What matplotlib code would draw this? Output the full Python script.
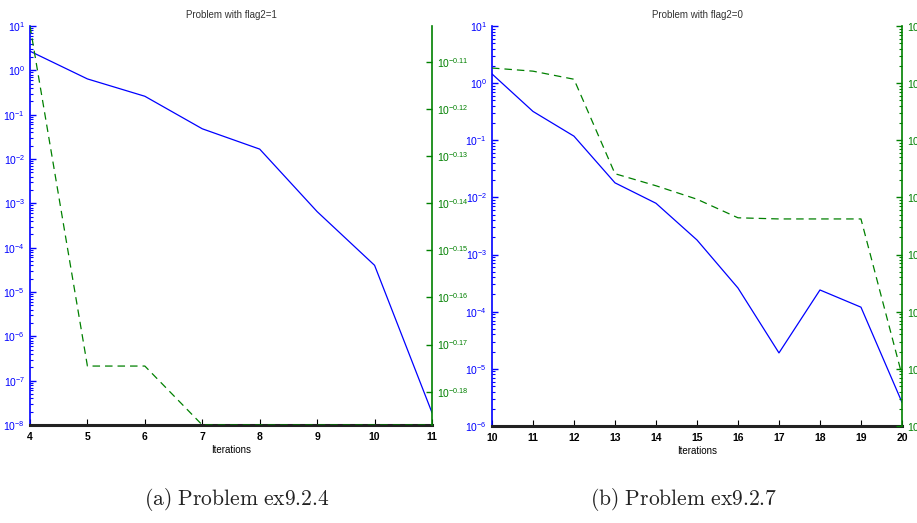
import matplotlib
matplotlib.use('Agg')
import matplotlib.pyplot as plt
from matplotlib.ticker import FixedLocator, FuncFormatter, LogLocator, NullLocator
import numpy as np

plt.rcParams['font.family'] = ['Liberation Sans', 'DejaVu Sans']
plt.rcParams['mathtext.fontset'] = 'custom'
plt.rcParams['mathtext.rm'] = 'Liberation Sans'
plt.rcParams['mathtext.it'] = 'Liberation Sans:italic'
plt.rcParams['mathtext.bf'] = 'Liberation Sans:bold'

BLUE = '#0000ff'
GREEN = '#008000'

# panel (a): ex9.2.4, flag2=1
iters_a = [4, 5, 6, 7, 8, 9, 10, 11]
blue_a = [2.7, 0.64, 0.26, 0.048, 0.0167, 6.5e-4, 4.0e-5, 1.9e-8]
green_a = [0.790, 0.669, 0.669, 0.650, 0.650, 0.650, 0.650, 0.650]
green_a_ticks = [-0.11, -0.12, -0.13, -0.14, -0.15, -0.16, -0.17, -0.18]

# panel (b): ex9.2.7, flag2=0
iters_b = [10, 11, 12, 13, 14, 15, 16, 17, 18, 19, 20]
blue_b = [1.45, 0.32, 0.118, 0.018, 0.0079, 0.0018, 2.6e-4, 1.9e-5, 2.4e-4, 1.2e-4, 2.6e-6]
green_b = [0.184, 0.162, 0.117, 2.6e-3, 1.6e-3, 9.3e-4, 4.4e-4, 4.2e-4, 4.2e-4, 4.2e-4, 7.8e-7]


def pow10(v, pos):
    return r'$10^{%d}$' % int(round(np.log10(v)))


def style_axes(ax, ax2, iters):
    for s in ['top', 'right']:
        ax.spines[s].set_visible(False)
    for s in ['top', 'left', 'bottom']:
        ax2.spines[s].set_visible(False)
    ax.spines['left'].set_color(BLUE)
    ax.spines['bottom'].set_color('#222222')
    ax.spines['bottom'].set_linewidth(2.2)
    ax2.spines['right'].set_color(GREEN)
    ax2.spines['right'].set_linewidth(1.2)
    ax.spines['left'].set_linewidth(1.2)
    ax.set_xlim(iters[0], iters[-1])
    ax.set_xticks(iters)
    ax.tick_params(axis='x', direction='in', length=4, labelsize=7.5, pad=5)
    for lab in ax.get_xticklabels():
        lab.set_fontweight('bold')
    ax.tick_params(axis='y', which='both', direction='in', colors=BLUE, labelsize=7.5)
    ax.tick_params(axis='y', which='major', length=4, width=1)
    ax.tick_params(axis='y', which='minor', length=2.5, width=0.8)
    ax2.tick_params(axis='y', which='both', direction='in', colors=GREEN, labelsize=7.5)
    ax2.tick_params(axis='y', which='major', length=4, width=1)
    ax2.tick_params(axis='y', which='minor', length=2.5, width=0.8)
    ax.set_xlabel('Iterations', fontsize=7, labelpad=2)


fig = plt.figure(figsize=(9.17, 5.23), dpi=100)

# ---- panel (a)
ax = fig.add_axes([0.0327, 0.1874, 0.4384, 0.7629])
ax2 = ax.twinx()
ax.semilogy(iters_a, blue_a, color=BLUE, lw=0.9)
ax2.semilogy(iters_a, green_a, color=GREEN, lw=0.9, dashes=(6, 4))
ax.set_ylim(1e-8, 1e1)
ax.yaxis.set_major_locator(LogLocator(base=10, numticks=20))
ax.yaxis.set_minor_locator(LogLocator(base=10, subs=np.arange(2, 10), numticks=20))
ax.yaxis.set_major_formatter(FuncFormatter(pow10))
ax2.set_ylim(min(green_a), max(green_a))
ax2.yaxis.set_major_locator(FixedLocator([10 ** t for t in green_a_ticks]))
ax2.yaxis.set_minor_locator(NullLocator())
ax2.yaxis.set_major_formatter(FuncFormatter(lambda v, p: r'$10^{%.2f}$' % np.log10(v)))
style_axes(ax, ax2, iters_a)
ax.set_title('Problem with flag2=1', fontsize=7, pad=6, color='#333333')

# ---- panel (b)
bx = fig.add_axes([0.5365, 0.1855, 0.4471, 0.7648])
bx2 = bx.twinx()
bx.semilogy(iters_b, blue_b, color=BLUE, lw=0.9)
bx2.semilogy(iters_b, green_b, color=GREEN, lw=0.9, dashes=(6, 4))
bx.set_ylim(1e-6, 1e1)
bx2.set_ylim(1e-7, 1e0)
for a in (bx, bx2):
    a.yaxis.set_major_locator(LogLocator(base=10, numticks=20))
    a.yaxis.set_minor_locator(LogLocator(base=10, subs=np.arange(2, 10), numticks=20))
    a.yaxis.set_major_formatter(FuncFormatter(pow10))
style_axes(bx, bx2, iters_b)
bx.set_title('Problem with flag2=0', fontsize=7, pad=6, color='#333333')

fig.text(0.258, 0.044, r'$\mathrm{(a)\ Problem\ ex9.2.4}$', fontsize=15.5,
         math_fontfamily='cm', ha='center', va='center', color='#222222')
fig.text(0.746, 0.044, r'$\mathrm{(b)\ Problem\ ex9.2.7}$', fontsize=15.5,
         math_fontfamily='cm', ha='center', va='center', color='#222222')

fig.savefig('out.png', dpi=100)
